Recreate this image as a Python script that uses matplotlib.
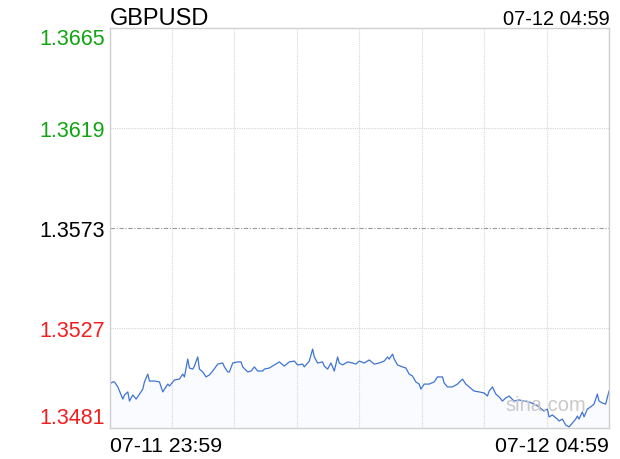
import numpy as np
from matplotlib import pyplot as plt

plt.rcParams['font.family'] = ['Liberation Sans', 'DejaVu Sans']

symbol = "GBPUSD"
start_label = "07-11 23:59"
end_label = "07-12 04:59"

# y levels shown on the left axis (prev close in the middle)
levels = [1.3665, 1.3619, 1.3573, 1.3527, 1.3481]
level_colors = ['#11a511', '#11a511', '#000000', '#f01e1e', '#f01e1e']
prev_close = 1.3573

# minutes after 23:59
minutes = [0, 2, 3, 5, 6, 8, 9, 11, 12, 14, 16, 18, 20, 21, 23, 24, 27, 30, 32, 35,
           36, 39, 42, 44, 45, 47, 48, 50, 51, 53, 54, 56, 58, 60, 62, 65, 68, 69, 71, 72,
           74, 77, 79, 80, 83, 85, 87, 89, 92, 93, 96, 99, 102, 105, 108, 111, 113, 116, 117, 120,
           122, 123, 125, 128, 129, 131, 133, 135, 137, 138, 140, 143, 146, 148, 150, 153, 156, 159, 162, 165,
           167, 168, 170, 171, 173, 176, 178, 180, 182, 184, 186, 187, 189, 192, 195, 197, 200, 201, 203, 206,
           209, 212, 214, 216, 219, 222, 225, 227, 228, 230, 232, 234, 236, 238, 240, 243, 246, 249, 252, 255,
           258, 261, 263, 264, 266, 269, 270, 272, 274, 276, 278, 280, 281, 282, 284, 285, 287, 289, 291, 293,
           294, 296, 298, 300]

prices = [1.35012, 1.35022, 1.35022, 1.34999, 1.34980, 1.34943, 1.34962, 1.34976, 1.34934, 1.34962,
          1.34943, 1.34966, 1.34989, 1.35022, 1.35058, 1.35026, 1.35026, 1.35022, 1.34976, 1.35012,
          1.35003, 1.35031, 1.35035, 1.35058, 1.35045, 1.35127, 1.35086, 1.35081, 1.35095, 1.35137,
          1.35081, 1.35068, 1.35045, 1.35054, 1.35072, 1.35104, 1.35109, 1.35091, 1.35068, 1.35068,
          1.35109, 1.35114, 1.35114, 1.35091, 1.35068, 1.35072, 1.35091, 1.35072, 1.35072, 1.35081,
          1.35086, 1.35100, 1.35114, 1.35095, 1.35114, 1.35118, 1.35100, 1.35104, 1.35091, 1.35118,
          1.35173, 1.35137, 1.35109, 1.35114, 1.35095, 1.35081, 1.35109, 1.35072, 1.35137, 1.35109,
          1.35100, 1.35114, 1.35109, 1.35104, 1.35118, 1.35109, 1.35123, 1.35104, 1.35109, 1.35118,
          1.35137, 1.35127, 1.35150, 1.35127, 1.35100, 1.35091, 1.35086, 1.35058, 1.35049, 1.35022,
          1.35012, 1.34989, 1.35012, 1.35012, 1.35022, 1.35045, 1.35045, 1.35017, 1.34999, 1.34999,
          1.35012, 1.35035, 1.35012, 1.34999, 1.34980, 1.34976, 1.34971, 1.34957, 1.34980, 1.34999,
          1.34966, 1.34953, 1.34934, 1.34948, 1.34957, 1.34934, 1.34939, 1.34934, 1.34930, 1.34920,
          1.34907, 1.34888, 1.34897, 1.34861, 1.34870, 1.34851, 1.34842, 1.34851, 1.34824, 1.34815,
          1.34833, 1.34851, 1.34865, 1.34851, 1.34884, 1.34861, 1.34897, 1.34907, 1.34920, 1.34966,
          1.34934, 1.34925, 1.34920, 1.34980]

fig = plt.figure(figsize=(6.2, 4.6), dpi=100)
ax = fig.add_axes([109.5 / 620, 31 / 460, 499.5 / 620, 400 / 460])

ax.fill_between(minutes, prices, levels[-1], color='#f9fbff', lw=0)
ax.plot(minutes, prices, color='#3f74d2', lw=0.9)

ax.set_xlim(0, 300)
ax.set_ylim(levels[-1], levels[0])

# vertical grid, 8 columns
ax.set_xticks(np.linspace(0, 300, 9))
ax.set_xticklabels([start_label] + [''] * 7 + [end_label], fontsize=15.3)
xl = ax.get_xticklabels()
xl[0].set_ha('left')
xl[-1].set_ha('right')
ax.grid(axis='x', color='#d6d6d6', ls=(0, (1, 1)), lw=0.8)
ax.tick_params(axis='x', length=0, pad=6)

# horizontal lines
for lv in levels[1:-1]:
    if lv == prev_close:
        ax.axhline(lv, color='#9a9a9a', ls=(0, (4, 1.5, 1, 1.5)), lw=0.8)
    else:
        ax.axhline(lv, color='#d6d6d6', ls=(0, (1, 1)), lw=0.8)

ax.set_yticks(levels)
ax.set_yticklabels(['%.4f' % v for v in levels], fontsize=15.5)
ax.tick_params(axis='y', length=0, pad=3)
for lab, c in zip(ax.get_yticklabels(), level_colors):
    lab.set_color(c)
yl = ax.get_yticklabels()
yl[0].set_va('top')
yl[-1].set_va('bottom')

for s in ax.spines.values():
    s.set_color('#d0d0d0')
    s.set_linewidth(1)

ax.text(0.0, 1.011, symbol, transform=ax.transAxes, ha='left', va='baseline', fontsize=17)
ax.text(1.002, 1.011, end_label, transform=ax.transAxes, ha='right', va='baseline', fontsize=14.4)
ax.text(0.955, 0.035, 'sina.com', transform=ax.transAxes, ha='right', va='bottom',
        fontsize=14.5, color='#c9c9c9')

fig.savefig('out.png', dpi=100)
